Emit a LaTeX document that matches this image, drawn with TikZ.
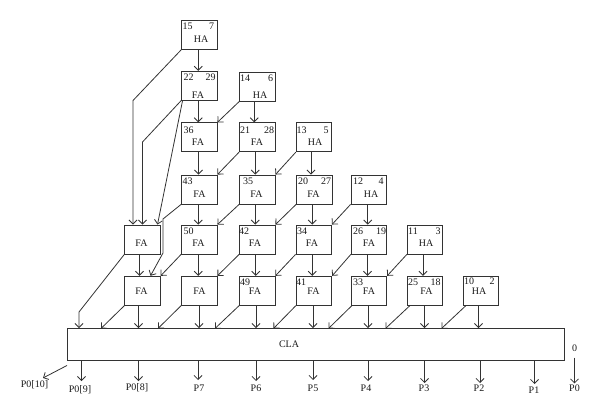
\documentclass[tikz,border=0pt]{standalone}
\usepackage{fontspec}
\setmainfont{Liberation Serif}
\usetikzlibrary{arrows.meta}
\tikzset{
  adder/.style={draw=black!80, line width=0.9pt, minimum width=35.5pt, minimum height=29pt, inner sep=0pt},
  lab/.style={font=\fontsize{10}{11}\selectfont, inner sep=0pt, text=black!90},
  sig/.style={-{Straight Barb[length=4pt,width=8pt]}, draw=black!80, line width=0.8pt}
}
\begin{document}
\begin{tikzpicture}[x=1pt,y=-1pt]
\useasboundingbox (0,0) rectangle (600,417);
% adder boxes, row by row
\foreach \name/\x/\y in {
  hafive/199.25/35, fasix/199.25/85.75, hasix/257.25/86.75,
  fathree/199.25/137.25, fatwo/257.25/137.25, hathree/314/137.25,
  fafour/199.25/189.5, fafive/257.25/189.5, faseven/314.25/189.5, hatwo/368.75/189.5,
  fatop/142.5/239.5, faa/199.25/239.5, fab/257.25/239.5, fac/313.75/239.5, fad/369/239.5, haa/425/239.5,
  falow/142.5/290.75, fae/199.25/290.75, faf/257.25/290.75, fag/314/290.75, fah/369/290.75, fai/425/290.75, hab/481/290.75}{
  \node[adder] (\name) at (\x,\y) {};
}
\node[draw=black!80, line width=0.9pt, minimum width=496.5pt, minimum height=31.5pt, inner sep=0pt] (cla) at (315.75,344.25) {};
% texts in the boxes
\foreach \name/\txt/\x/\y in {
  hafive/15/187.5/26, hafive/7/211.5/26, hafive/HA/201/39,
  fasix/22/188.5/77.5, fasix/29/210.5/77.5, fasix/FA/198/95,
  hasix/14/245/78.5, hasix/6/270.5/78.5, hasix/HA/260/95,
  fathree/36/188.5/130, fathree/FA/198/142,
  fatwo/21/245/130, fatwo/28/269/130, fatwo/FA/257/142,
  hathree/13/301.5/130, hathree/5/326/130, hathree/HA/315/142,
  fafour/43/187.5/181, fafour/FA/199.5/194,
  fafive/35/248/181, fafive/FA/256.5/194,
  faseven/20/303/181, faseven/27/326/181, faseven/FA/313.5/194,
  hatwo/12/358/181, hatwo/4/381/181, hatwo/HA/371/194,
  fatop/FA/141.5/243,
  faa/50/188.5/231, faa/FA/198.5/243,
  fab/42/244/231, fab/FA/255/243,
  fac/34/302/231, fac/FA/312/243,
  fad/26/358/231, fad/19/381/231, fad/FA/369/243,
  haa/11/413/231, haa/3/438/231, haa/HA/426/243,
  falow/FA/141.5/291.5, fae/FA/199.5/291.5,
  faf/49/245/282, faf/FA/255/291.5,
  fag/41/301/282, fag/FA/313.5/291.5,
  fah/33/358/282, fah/FA/369/291.5,
  fai/25/413/282, fai/18/435.5/282, fai/FA/426.5/291.5,
  hab/10/469/281, hab/2/492/281, hab/HA/479/291.5,
  cla/CLA/289/344}{
  \node[lab] (\name-\txt) at (\x,\y) {\txt};
}
% straight down between boxes
\foreach \a/\b/\s in {
  hafive/fasix/-1, fasix/fathree/-1, hasix/fatwo/-3, fathree/fafour/-0.75, fatwo/fafive/-2, hathree/faseven/-3,
  fafour/faa/-1, fafive/fab/-2, faseven/fac/-2, hatwo/fad/-1,
  fatop/falow/-3, faa/fae/-1, fab/faf/-1.5, fac/fag/-1.5, fad/fah/-1.5, haa/fai/-2}{
  \draw[sig] ([xshift=\s]\a.south) -- ([xshift=\s]\a.south |- \b.north);
}
% sloped, corner to corner
\foreach \a/\b in {
  hasix/fathree, fatwo/fafour, hathree/fafive, fafive/faa, faseven/fab, hatwo/fac,
  faa/falow, fab/fae, fac/faf, fad/fag, haa/fah}{
  \draw[sig] (\a.south west) -- (\b.north east);
}
% into the CLA
\foreach \a/\s/\o/\e in {falow/-4/0/101, fae/-0.25/0/158, faf/-1.25/0/215, fag/-1/0/273.5, fah/-1/1/328.5, fai/-0.5/3/385.5, hab/-2.5/3/441.5}{
  \coordinate (\a-in) at (\e,328.5);
  \draw[sig] ([xshift=\s]\a.south) -- ([xshift=\s]\a.south |- cla.north);
  \draw[sig] ([xshift=\o]\a.south west) -- (\a-in);
}
% long wires on the left
\coordinate (benda) at (133,100.5);
\coordinate (bendb) at (142.5,142);
\coordinate (bendc) at (163,219);
\coordinate (bendd) at (163,253);
\coordinate (bende) at (79,312);
\draw[sig] (hafive.south west) -- (benda) -- (benda |- fatop.north);
\draw[sig] (fasix.south west) -- (bendb) -- (bendb |- fatop.north);
\draw[sig] ([xshift=1.5]fasix.south west) -- ([xshift=15]fatop.north);
\draw[sig] (fafour.south west) -- (bendc) -- (bendd) -- ([xshift=8]falow.north);
\draw[sig] (fatop.south west) -- (bende) -- (bende |- cla.north);
% outputs
\foreach \name/\txt/\x/\y in {
  pnine/{P0[9]}/80/390, peight/{P0[8]}/137/388, pseven/P7/199/388, psix/P6/256/388,
  pfive/P5/313/388, pfour/P4/366/388, pthree/P3/424/388, ptwo/P2/479/388, pone/P1/534/390}{
  \node[lab] (\name) at (\x,\y) {\txt};
}
\foreach \name/\x/\ex in {pnine/81.5/381, peight/138.5/381, pseven/198/380, psix/256/381, pfive/313/380, pfour/368/381, pthree/424.5/383, ptwo/480/383, pone/534.5/384}{
  \coordinate (\name-end) at (\x,\ex);
  \draw[sig] (\name-end |- cla.south) -- (\name-end);
}
\node[lab] (pten) at (34.5,385) {P0[10]};
\coordinate (pten-end) at (43,378);
\draw[sig] ([yshift=-5]cla.south west) -- (pten-end);
\node[lab] (zero) at (574.5,348) {0};
\node[lab] (pzero) at (574.5,388) {P0};
\draw[sig, shorten <=6pt, shorten >=1pt] (zero.south) -- (pzero.north);
\end{tikzpicture}
\end{document}
